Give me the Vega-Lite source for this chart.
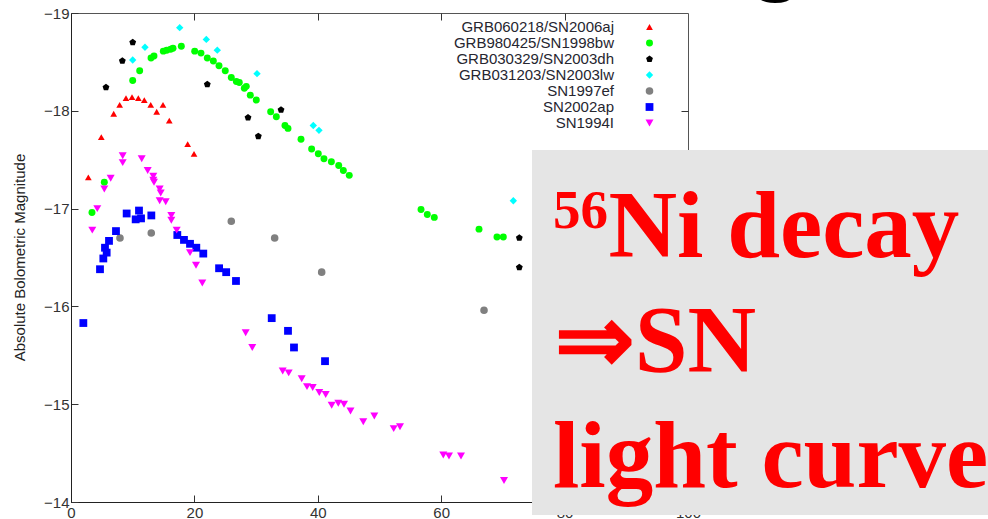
{
  "$schema": "https://vega.github.io/schema/vega-lite/v6.json",
  "width": 617,
  "height": 489,
  "autosize": {"type": "none"},
  "padding": {"left": 71, "top": 13, "right": 300, "bottom": 17},
  "background": "white",
  "config": {
    "view": {"stroke": "#555555", "strokeWidth": 1},
    "font": "Liberation Sans"
  },
  "datasets": {
    "pts": [
      {"s": "GRB060218/SN2006aj", "t": 2.81, "m": -17.32},
      {"s": "GRB060218/SN2006aj", "t": 4.91, "m": -17.73},
      {"s": "GRB060218/SN2006aj", "t": 6.92, "m": -17.97},
      {"s": "GRB060218/SN2006aj", "t": 7.89, "m": -18.06},
      {"s": "GRB060218/SN2006aj", "t": 8.91, "m": -18.13},
      {"s": "GRB060218/SN2006aj", "t": 9.89, "m": -18.14},
      {"s": "GRB060218/SN2006aj", "t": 10.91, "m": -18.13},
      {"s": "GRB060218/SN2006aj", "t": 11.88, "m": -18.11},
      {"s": "GRB060218/SN2006aj", "t": 12.92, "m": -18.06},
      {"s": "GRB060218/SN2006aj", "t": 13.89, "m": -17.99},
      {"s": "GRB060218/SN2006aj", "t": 14.91, "m": -18.06},
      {"s": "GRB060218/SN2006aj", "t": 15.93, "m": -17.9},
      {"s": "GRB060218/SN2006aj", "t": 18.91, "m": -17.66},
      {"s": "GRB060218/SN2006aj", "t": 19.94, "m": -17.56},
      {"s": "GRB980425/SN1998bw", "t": 3.4, "m": -16.96},
      {"s": "GRB980425/SN1998bw", "t": 5.4, "m": -17.27},
      {"s": "GRB980425/SN1998bw", "t": 10.0, "m": -18.31},
      {"s": "GRB980425/SN1998bw", "t": 11.13, "m": -18.41},
      {"s": "GRB980425/SN1998bw", "t": 12.97, "m": -18.54},
      {"s": "GRB980425/SN1998bw", "t": 13.45, "m": -18.56},
      {"s": "GRB980425/SN1998bw", "t": 14.96, "m": -18.61},
      {"s": "GRB980425/SN1998bw", "t": 15.51, "m": -18.62},
      {"s": "GRB980425/SN1998bw", "t": 16.15, "m": -18.63},
      {"s": "GRB980425/SN1998bw", "t": 16.53, "m": -18.64},
      {"s": "GRB980425/SN1998bw", "t": 17.88, "m": -18.66},
      {"s": "GRB980425/SN1998bw", "t": 20.05, "m": -18.61},
      {"s": "GRB980425/SN1998bw", "t": 21.07, "m": -18.59},
      {"s": "GRB980425/SN1998bw", "t": 22.09, "m": -18.54},
      {"s": "GRB980425/SN1998bw", "t": 23.07, "m": -18.51},
      {"s": "GRB980425/SN1998bw", "t": 23.99, "m": -18.46},
      {"s": "GRB980425/SN1998bw", "t": 25.0, "m": -18.41},
      {"s": "GRB980425/SN1998bw", "t": 25.98, "m": -18.34},
      {"s": "GRB980425/SN1998bw", "t": 26.8, "m": -18.3},
      {"s": "GRB980425/SN1998bw", "t": 27.28, "m": -18.29},
      {"s": "GRB980425/SN1998bw", "t": 28.09, "m": -18.23},
      {"s": "GRB980425/SN1998bw", "t": 28.41, "m": -18.25},
      {"s": "GRB980425/SN1998bw", "t": 29.06, "m": -18.16},
      {"s": "GRB980425/SN1998bw", "t": 30.03, "m": -18.11},
      {"s": "GRB980425/SN1998bw", "t": 32.36, "m": -17.99},
      {"s": "GRB980425/SN1998bw", "t": 33.28, "m": -17.94},
      {"s": "GRB980425/SN1998bw", "t": 34.68, "m": -17.85},
      {"s": "GRB980425/SN1998bw", "t": 35.17, "m": -17.82},
      {"s": "GRB980425/SN1998bw", "t": 37.28, "m": -17.71},
      {"s": "GRB980425/SN1998bw", "t": 39.0, "m": -17.61},
      {"s": "GRB980425/SN1998bw", "t": 40.08, "m": -17.56},
      {"s": "GRB980425/SN1998bw", "t": 41.0, "m": -17.51},
      {"s": "GRB980425/SN1998bw", "t": 42.2, "m": -17.48},
      {"s": "GRB980425/SN1998bw", "t": 43.39, "m": -17.44},
      {"s": "GRB980425/SN1998bw", "t": 44.14, "m": -17.39},
      {"s": "GRB980425/SN1998bw", "t": 45.1, "m": -17.34},
      {"s": "GRB980425/SN1998bw", "t": 56.73, "m": -16.99},
      {"s": "GRB980425/SN1998bw", "t": 57.75, "m": -16.94},
      {"s": "GRB980425/SN1998bw", "t": 58.88, "m": -16.91},
      {"s": "GRB980425/SN1998bw", "t": 66.13, "m": -16.79},
      {"s": "GRB980425/SN1998bw", "t": 69.04, "m": -16.71},
      {"s": "GRB980425/SN1998bw", "t": 70.07, "m": -16.71},
      {"s": "GRB030329/SN2003dh", "t": 5.67, "m": -18.24},
      {"s": "GRB030329/SN2003dh", "t": 8.32, "m": -18.51},
      {"s": "GRB030329/SN2003dh", "t": 10.0, "m": -18.7},
      {"s": "GRB030329/SN2003dh", "t": 22.09, "m": -18.27},
      {"s": "GRB030329/SN2003dh", "t": 28.69, "m": -17.93},
      {"s": "GRB030329/SN2003dh", "t": 30.36, "m": -17.74},
      {"s": "GRB030329/SN2003dh", "t": 34.04, "m": -18.01},
      {"s": "GRB030329/SN2003dh", "t": 72.66, "m": -16.7},
      {"s": "GRB030329/SN2003dh", "t": 72.66, "m": -16.4},
      {"s": "GRB031203/SN2003lw", "t": 10.0, "m": -18.52},
      {"s": "GRB031203/SN2003lw", "t": 11.99, "m": -18.65},
      {"s": "GRB031203/SN2003lw", "t": 17.62, "m": -18.85},
      {"s": "GRB031203/SN2003lw", "t": 21.93, "m": -18.73},
      {"s": "GRB031203/SN2003lw", "t": 23.71, "m": -18.62},
      {"s": "GRB031203/SN2003lw", "t": 30.15, "m": -18.38},
      {"s": "GRB031203/SN2003lw", "t": 39.27, "m": -17.85},
      {"s": "GRB031203/SN2003lw", "t": 40.19, "m": -17.8},
      {"s": "GRB031203/SN2003lw", "t": 71.69, "m": -17.08},
      {"s": "SN1997ef", "t": 7.94, "m": -16.7},
      {"s": "SN1997ef", "t": 13.01, "m": -16.75},
      {"s": "SN1997ef", "t": 25.98, "m": -16.87},
      {"s": "SN1997ef", "t": 33.01, "m": -16.7},
      {"s": "SN1997ef", "t": 40.63, "m": -16.35},
      {"s": "SN1997ef", "t": 66.94, "m": -15.96},
      {"s": "SN2002ap", "t": 2.0, "m": -15.83},
      {"s": "SN2002ap", "t": 4.7, "m": -16.38},
      {"s": "SN2002ap", "t": 5.24, "m": -16.49},
      {"s": "SN2002ap", "t": 5.51, "m": -16.6},
      {"s": "SN2002ap", "t": 5.78, "m": -16.55},
      {"s": "SN2002ap", "t": 6.16, "m": -16.67},
      {"s": "SN2002ap", "t": 7.29, "m": -16.77},
      {"s": "SN2002ap", "t": 9.02, "m": -16.95},
      {"s": "SN2002ap", "t": 10.48, "m": -16.89},
      {"s": "SN2002ap", "t": 11.02, "m": -16.98},
      {"s": "SN2002ap", "t": 11.35, "m": -16.9},
      {"s": "SN2002ap", "t": 13.02, "m": -16.93},
      {"s": "SN2002ap", "t": 17.23, "m": -16.73},
      {"s": "SN2002ap", "t": 18.31, "m": -16.68},
      {"s": "SN2002ap", "t": 19.29, "m": -16.64},
      {"s": "SN2002ap", "t": 20.31, "m": -16.6},
      {"s": "SN2002ap", "t": 21.44, "m": -16.54},
      {"s": "SN2002ap", "t": 24.0, "m": -16.39},
      {"s": "SN2002ap", "t": 25.15, "m": -16.35},
      {"s": "SN2002ap", "t": 26.74, "m": -16.26},
      {"s": "SN2002ap", "t": 32.53, "m": -15.88},
      {"s": "SN2002ap", "t": 35.17, "m": -15.75},
      {"s": "SN2002ap", "t": 36.14, "m": -15.58},
      {"s": "SN2002ap", "t": 41.17, "m": -15.44},
      {"s": "SN1994I", "t": 3.45, "m": -16.78},
      {"s": "SN1994I", "t": 4.26, "m": -17.0},
      {"s": "SN1994I", "t": 5.4, "m": -17.2},
      {"s": "SN1994I", "t": 6.43, "m": -17.31},
      {"s": "SN1994I", "t": 8.38, "m": -17.54},
      {"s": "SN1994I", "t": 8.38, "m": -17.47},
      {"s": "SN1994I", "t": 11.46, "m": -17.51},
      {"s": "SN1994I", "t": 12.43, "m": -17.39},
      {"s": "SN1994I", "t": 13.34, "m": -17.33},
      {"s": "SN1994I", "t": 13.34, "m": -17.29},
      {"s": "SN1994I", "t": 13.45, "m": -17.27},
      {"s": "SN1994I", "t": 14.37, "m": -17.2},
      {"s": "SN1994I", "t": 14.54, "m": -17.16},
      {"s": "SN1994I", "t": 14.37, "m": -17.08},
      {"s": "SN1994I", "t": 15.35, "m": -17.07},
      {"s": "SN1994I", "t": 16.26, "m": -16.93},
      {"s": "SN1994I", "t": 16.26, "m": -16.88},
      {"s": "SN1994I", "t": 17.13, "m": -16.78},
      {"s": "SN1994I", "t": 19.29, "m": -16.55},
      {"s": "SN1994I", "t": 20.26, "m": -16.42},
      {"s": "SN1994I", "t": 21.28, "m": -16.24},
      {"s": "SN1994I", "t": 28.31, "m": -15.73},
      {"s": "SN1994I", "t": 29.38, "m": -15.58},
      {"s": "SN1994I", "t": 34.31, "m": -15.34},
      {"s": "SN1994I", "t": 35.28, "m": -15.32},
      {"s": "SN1994I", "t": 37.39, "m": -15.26},
      {"s": "SN1994I", "t": 38.25, "m": -15.18},
      {"s": "SN1994I", "t": 39.17, "m": -15.17},
      {"s": "SN1994I", "t": 40.24, "m": -15.12},
      {"s": "SN1994I", "t": 41.28, "m": -15.1},
      {"s": "SN1994I", "t": 42.25, "m": -14.99},
      {"s": "SN1994I", "t": 43.32, "m": -15.01},
      {"s": "SN1994I", "t": 44.25, "m": -15.0},
      {"s": "SN1994I", "t": 45.3, "m": -14.93},
      {"s": "SN1994I", "t": 47.37, "m": -14.82},
      {"s": "SN1994I", "t": 49.16, "m": -14.88},
      {"s": "SN1994I", "t": 52.3, "m": -14.75},
      {"s": "SN1994I", "t": 53.32, "m": -14.77},
      {"s": "SN1994I", "t": 60.34, "m": -14.48},
      {"s": "SN1994I", "t": 61.26, "m": -14.47},
      {"s": "SN1994I", "t": 63.21, "m": -14.47},
      {"s": "SN1994I", "t": 70.18, "m": -14.22}
    ],
    "notes": [
      {"label": "56", "part": "sup"},
      {"label": "Ni decay", "part": "l1"},
      {"label": "⇒SN", "part": "l2"},
      {"label": "light curve", "part": "l3"}
    ]
  },
  "resolve": {"axis": {"x": "independent", "y": "independent"}},
  "layer": [
    {
      "data": {"name": "pts"},
      "mark": {"type": "point", "filled": true, "opacity": 1, "strokeWidth": 0},
      "encoding": {
        "x": {
          "field": "t", "type": "quantitative",
          "scale": {"domain": [0, 100], "nice": false, "zero": false},
          "axis": {
            "orient": "bottom", "title": null, "values": [0, 20, 40, 60, 80, 100],
            "grid": false, "tickSize": -7, "tickColor": "#333333", "domainColor": "#222222",
            "labelFont": "Liberation Sans", "labelFontSize": 15, "labelColor": "#333333",
            "labelPadding": 10, "labelFlush": false, "zindex": 0
          }
        },
        "y": {
          "field": "m", "type": "quantitative",
          "scale": {"domain": [-19, -14], "reverse": true, "nice": false, "zero": false},
          "axis": {
            "orient": "left", "title": "Absolute Bolometric Magnitude",
            "values": [-19, -18, -17, -16, -15, -14],
            "grid": false, "tickSize": -7, "tickColor": "#333333", "domainColor": "#222222",
            "labelFont": "Liberation Sans", "labelFontSize": 15, "labelColor": "#333333",
            "labelPadding": 9, "labelFlush": false,
            "titleFont": "Liberation Sans", "titleFontSize": 15, "titleFontWeight": "normal",
            "titleColor": "#222222", "titleAngle": -90, "titleBaseline": "alphabetic",
            "titleAlign": "center", "titleX": -47, "titleY": 244, "zindex": 0
          }
        },
        "color": {
          "field": "s", "type": "nominal",
          "scale": {
            "domain": ["GRB060218/SN2006aj", "GRB980425/SN1998bw", "GRB030329/SN2003dh", "GRB031203/SN2003lw", "SN1997ef", "SN2002ap", "SN1994I"],
            "range": ["#ff0000", "#00ff00", "#000000", "#00ffff", "#808080", "#0000ff", "#ff00ff"]
          },
          "legend": {
            "title": null, "orient": "none", "legendX": 571, "legendY": 6.5,
            "padding": 0, "rowPadding": -1.1, "labelAlign": "right", "labelOffset": -43,
            "labelLimit": 0,
            "labelFont": "Liberation Sans", "labelFontSize": 15, "labelColor": "#262630",
            "symbolStrokeWidth": 0, "symbolOpacity": 1
          }
        },
        "shape": {
          "field": "s", "type": "nominal",
          "scale": {
            "domain": ["GRB060218/SN2006aj", "GRB980425/SN1998bw", "GRB030329/SN2003dh", "GRB031203/SN2003lw", "SN1997ef", "SN2002ap", "SN1994I"],
            "range": ["triangle-up", "circle", "M0,-1L0.951,-0.309L0.588,0.809L-0.588,0.809L-0.951,-0.309Z", "diamond", "circle", "square", "triangle-down"]
          }
        },
        "size": {
          "field": "s", "type": "nominal",
          "scale": {
            "domain": ["GRB060218/SN2006aj", "GRB980425/SN1998bw", "GRB030329/SN2003dh", "GRB031203/SN2003lw", "SN1997ef", "SN2002ap", "SN1994I"],
            "range": [45, 64, 40, 32, 45, 55, 40]
          }
        }
      }
    },
    {
      "data": {"values": [{}]},
      "mark": {"type": "rect", "fill": "#e5e5e5", "clip": false},
      "encoding": {
        "x": {"datum": 74.72, "type": "quantitative",
          "axis": {"orient": "top", "title": null, "labels": false, "domain": false,
            "values": [20, 40, 60, 80], "tickSize": -7, "tickColor": "#333333", "grid": false, "zindex": 0}},
        "x2": {"datum": 150},
        "y": {"datum": -17.6, "type": "quantitative",
          "axis": {"orient": "right", "title": null, "labels": false, "domain": false,
            "values": [-18, -17, -16, -15], "tickSize": -7, "tickColor": "#333333", "grid": false, "zindex": 0}},
        "y2": {"datum": -13.867}
      }
    },
    {
      "data": {"name": "notes"},
      "transform": [{"filter": "datum.part === 'sup'"}],
      "mark": {"type": "text", "font": "Liberation Serif", "fontWeight": "bold", "fontSize": 55, "color": "#ff0000", "align": "left", "baseline": "alphabetic"},
      "encoding": {
        "x": {"datum": 78.1, "type": "quantitative", "axis": null},
        "y": {"datum": -16.8, "type": "quantitative", "axis": null},
        "text": {"field": "label"}
      }
    },
    {
      "data": {"name": "notes"},
      "transform": [{"filter": "datum.part === 'l1'"}],
      "mark": {"type": "text", "font": "Liberation Serif", "fontWeight": "bold", "fontSize": 95, "color": "#ff0000", "align": "left", "baseline": "alphabetic"},
      "encoding": {
        "x": {"datum": 87.1, "type": "quantitative", "axis": null},
        "y": {"datum": -16.505, "type": "quantitative", "axis": null},
        "text": {"field": "label"}
      }
    },
    {
      "data": {"name": "notes"},
      "transform": [{"filter": "datum.part === 'l2'"}],
      "mark": {"type": "text", "font": "Liberation Serif", "fontWeight": "bold", "fontSize": 95, "color": "#ff0000", "align": "left", "baseline": "alphabetic"},
      "encoding": {
        "x": {"datum": 78.4, "type": "quantitative", "axis": null},
        "y": {"datum": -15.329, "type": "quantitative", "axis": null},
        "text": {"field": "label"}
      }
    },
    {
      "data": {"name": "notes"},
      "transform": [{"filter": "datum.part === 'l3'"}],
      "mark": {"type": "text", "font": "Liberation Serif", "fontWeight": "bold", "fontSize": 95, "color": "#ff0000", "align": "left", "baseline": "alphabetic"},
      "encoding": {
        "x": {"datum": 78.1, "type": "quantitative", "axis": null},
        "y": {"datum": -14.153, "type": "quantitative", "axis": null},
        "text": {"field": "label"}
      }
    },
    {
      "data": {"values": [{"label": "g"}]},
      "mark": {"type": "text", "font": "Liberation Sans", "fontSize": 115, "color": "#000000", "align": "left", "baseline": "alphabetic"},
      "encoding": {
        "x": {"datum": 109.1, "type": "quantitative", "axis": null},
        "y": {"datum": -19.35, "type": "quantitative", "axis": null},
        "text": {"field": "label"}
      }
    }
  ]
}
